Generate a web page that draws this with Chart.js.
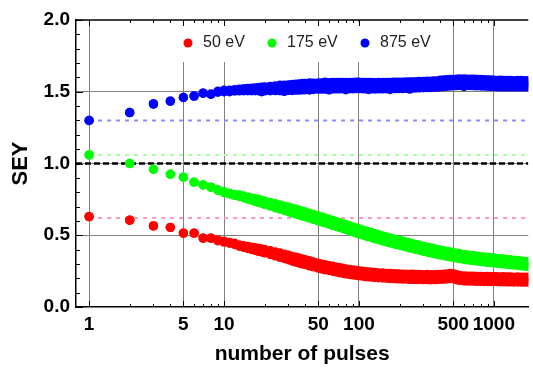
<!DOCTYPE html>
<html>
<head>
<meta charset="utf-8">
<script src="https://cdn.jsdelivr.net/npm/chart.js@4/dist/chart.umd.min.js"></script>
<style>
  html, body { margin: 0; padding: 0; background: #fff; }
</style>
</head>
<body>
<canvas id="seyChart" width="533" height="369"></canvas>
<script>
// pulse number (x) and SEY for each beam energy.
// Past ~10 pulses the measured points form a band, kept as an upper and a lower trace.
const pulses = [1, 2, 3, 4, 5, 6, 7, 8, 9, 10, 11, 12,
  13, 14, 15, 16, 17, 18, 19, 20, 22, 24, 26, 28, 30, 32, 34, 36, 38, 40, 43, 46,
  50, 53, 56, 60, 64, 68, 72, 76, 80, 85, 90, 95, 100, 106, 112, 118, 125, 132, 140,
  150, 160, 170, 180, 190, 200, 212, 225, 238, 250, 265, 280, 300, 320, 340, 360, 380,
  400, 425, 450, 475, 500, 530, 560, 600, 630, 670, 710, 750, 800, 850, 900, 950,
  1000, 1060, 1120, 1180, 1250, 1320, 1400, 1500, 1600, 1700, 1800];

const sey50Hi = [0.63, 0.605, 0.565, 0.555, 0.515, 0.515, 0.48, 0.48, 0.468, 0.458, 0.45, 0.444,
  0.433, 0.427, 0.422, 0.417, 0.413, 0.408, 0.405, 0.401, 0.392, 0.384, 0.376, 0.368, 0.361, 0.353, 0.347, 0.341, 0.335, 0.329, 0.322, 0.314,
  0.306, 0.299, 0.294, 0.288, 0.284, 0.278, 0.273, 0.27, 0.265, 0.262, 0.258, 0.255, 0.252, 0.249, 0.246, 0.245, 0.242, 0.24, 0.238,
  0.237, 0.234, 0.233, 0.232, 0.231, 0.23, 0.229, 0.228, 0.227, 0.228, 0.226, 0.226, 0.225, 0.226, 0.225, 0.225, 0.227,
  0.227, 0.229, 0.23, 0.233, 0.232, 0.225, 0.219, 0.216, 0.215, 0.214, 0.215, 0.213, 0.213, 0.212, 0.213, 0.212,
  0.211, 0.212, 0.21, 0.211, 0.209, 0.21, 0.208, 0.209, 0.207, 0.208, 0.207];
const sey50Lo = [0.63, 0.605, 0.565, 0.555, 0.515, 0.515, 0.48, 0.48, 0.462, 0.452, 0.444, 0.436,
  0.423, 0.415, 0.408, 0.401, 0.395, 0.388, 0.383, 0.377, 0.366, 0.356, 0.346, 0.338, 0.329, 0.321, 0.313, 0.307, 0.301, 0.295, 0.287, 0.28,
  0.271, 0.265, 0.26, 0.254, 0.249, 0.244, 0.239, 0.235, 0.231, 0.227, 0.224, 0.221, 0.218, 0.215, 0.212, 0.21, 0.208, 0.206, 0.204,
  0.202, 0.2, 0.199, 0.198, 0.197, 0.196, 0.195, 0.194, 0.193, 0.193, 0.192, 0.192, 0.191, 0.191, 0.19, 0.191, 0.192,
  0.193, 0.194, 0.196, 0.198, 0.197, 0.19, 0.185, 0.182, 0.181, 0.18, 0.18, 0.179, 0.179, 0.178, 0.178, 0.178,
  0.177, 0.177, 0.176, 0.176, 0.175, 0.175, 0.174, 0.174, 0.173, 0.173, 0.173];

const sey175Hi = [1.06, 1.0, 0.96, 0.925, 0.905, 0.87, 0.85, 0.835, 0.818, 0.803, 0.793, 0.784,
  0.78, 0.773, 0.766, 0.76, 0.754, 0.749, 0.744, 0.739, 0.729, 0.72, 0.712, 0.703, 0.696, 0.688, 0.682, 0.675, 0.668, 0.662, 0.653, 0.645,
  0.634, 0.627, 0.62, 0.611, 0.603, 0.595, 0.588, 0.581, 0.574, 0.566, 0.558, 0.551, 0.544, 0.537, 0.53, 0.523, 0.517, 0.51, 0.503,
  0.495, 0.488, 0.481, 0.475, 0.469, 0.464, 0.458, 0.452, 0.446, 0.441, 0.435, 0.43, 0.423, 0.417, 0.411, 0.406, 0.401,
  0.397, 0.392, 0.387, 0.383, 0.379, 0.375, 0.371, 0.366, 0.363, 0.36, 0.357, 0.354, 0.351, 0.348, 0.345, 0.343,
  0.341, 0.339, 0.336, 0.334, 0.332, 0.329, 0.327, 0.324, 0.321, 0.318, 0.315];
const sey175Lo = [1.06, 1.0, 0.96, 0.925, 0.905, 0.87, 0.85, 0.835, 0.812, 0.797, 0.787, 0.777,
  0.77, 0.761, 0.752, 0.744, 0.736, 0.729, 0.722, 0.715, 0.703, 0.692, 0.682, 0.673, 0.664, 0.656, 0.648, 0.641, 0.634, 0.628, 0.619, 0.611,
  0.6, 0.593, 0.586, 0.577, 0.569, 0.561, 0.554, 0.547, 0.54, 0.532, 0.524, 0.517, 0.51, 0.503, 0.496, 0.489, 0.483, 0.476, 0.469,
  0.461, 0.454, 0.447, 0.441, 0.435, 0.43, 0.424, 0.418, 0.412, 0.407, 0.401, 0.396, 0.389, 0.383, 0.377, 0.372, 0.367,
  0.363, 0.358, 0.353, 0.349, 0.345, 0.341, 0.337, 0.332, 0.329, 0.326, 0.323, 0.32, 0.317, 0.314, 0.311, 0.309,
  0.307, 0.305, 0.302, 0.3, 0.298, 0.295, 0.293, 0.29, 0.287, 0.284, 0.281];

const sey875Hi = [1.3, 1.355, 1.415, 1.435, 1.46, 1.47, 1.49, 1.483, 1.503, 1.51, 1.51, 1.515,
  1.518, 1.521, 1.523, 1.525, 1.527, 1.529, 1.531, 1.534, 1.537, 1.54, 1.545, 1.545, 1.548, 1.551, 1.553, 1.555, 1.557, 1.558, 1.561, 1.56,
  1.562, 1.562, 1.566, 1.563, 1.564, 1.564, 1.564, 1.565, 1.565, 1.565, 1.565, 1.566, 1.566, 1.565, 1.564, 1.564, 1.564, 1.563, 1.564,
  1.564, 1.565, 1.565, 1.566, 1.566, 1.567, 1.567, 1.568, 1.568, 1.569, 1.57, 1.571, 1.572, 1.573, 1.574, 1.575, 1.576,
  1.58, 1.582, 1.584, 1.586, 1.586, 1.588, 1.589, 1.589, 1.588, 1.588, 1.587, 1.586, 1.585, 1.584, 1.582, 1.583,
  1.581, 1.579, 1.58, 1.578, 1.579, 1.578, 1.577, 1.578, 1.578, 1.577, 1.577];
const sey875Lo = [1.3, 1.355, 1.415, 1.435, 1.46, 1.47, 1.49, 1.483, 1.497, 1.5, 1.5, 1.505,
  1.506, 1.507, 1.507, 1.507, 1.507, 1.507, 1.5, 1.506, 1.507, 1.508, 1.507, 1.503, 1.51, 1.509, 1.511, 1.511, 1.513, 1.514, 1.512, 1.516,
  1.518, 1.518, 1.519, 1.513, 1.52, 1.52, 1.52, 1.521, 1.514, 1.521, 1.521, 1.522, 1.522, 1.521, 1.52, 1.516, 1.52, 1.519, 1.52,
  1.52, 1.521, 1.516, 1.522, 1.522, 1.523, 1.523, 1.524, 1.518, 1.525, 1.526, 1.527, 1.528, 1.529, 1.53, 1.531, 1.532,
  1.534, 1.536, 1.538, 1.54, 1.541, 1.543, 1.544, 1.537, 1.544, 1.543, 1.542, 1.541, 1.54, 1.539, 1.538, 1.537,
  1.536, 1.535, 1.534, 1.534, 1.534, 1.534, 1.534, 1.534, 1.534, 1.534, 1.533];

const seriesLabels = ['50 eV', '175 eV', '875 eV'];
const seriesColors = ['#ff0000', '#00ff00', '#0000ff'];
const firstPulseSey = [0.62, 1.06, 1.3];
const refColors = ['#ff99cc', '#a8ffa8', '#8a8aff'];

const xLabelTicks = [1, 5, 10, 50, 100, 500, 1000];
const xMinorTicks = [2, 3, 4, 6, 7, 8, 9, 20, 30, 40, 60, 70, 80, 90, 200, 300, 400, 600, 700, 800, 900];
const xMin = 0.8;
const xMax = 1800;

const FONT = "'Liberation Sans', Arial, sans-serif";

function toPoints(ys) {
    return pulses.map((p, i) => ({ x: p, y: ys[i] }));
}

const seriesBands = [[sey50Hi, sey50Lo], [sey175Hi, sey175Lo], [sey875Hi, sey875Lo]];

const datasets = [];
seriesBands.forEach((band, i) => {
    band.forEach(vals => {
        datasets.push({
            label: seriesLabels[i],
            data: toPoints(vals),
            backgroundColor: seriesColors[i],
            borderWidth: 0,
            pointRadius: 4.7,
            pointHoverRadius: 4.7,
            order: 1
        });
    });
});
firstPulseSey.forEach((v, i) => {
    datasets.push({
        label: 'ref',
        data: [{ x: 1, y: v }, { x: xMax, y: v }],
        showLine: true,
        borderColor: refColors[i],
        borderWidth: 2,
        borderDash: [4, 5],
        pointRadius: 0,
        order: 2
    });
});
datasets.push({
    label: 'unity',
    data: [{ x: xMin, y: 1 }, { x: xMax, y: 1 }],
    showLine: true,
    borderColor: '#000',
    borderWidth: 2.5,
    borderDash: [6, 3],
    pointRadius: 0,
    order: 2
});

// legend box, frame on top and inward tick marks
const frameTicks = {
    id: 'frameTicks',
    afterDatasetsDraw(chart) {
        const { ctx, chartArea: a, scales: { x, y } } = chart;
        ctx.save();

        ctx.fillStyle = '#fff';
        ctx.fillRect(168, a.top + 2, 280, 40);
        const dots = [188, 272, 365];
        ctx.font = '16px ' + FONT;
        ctx.textBaseline = 'middle';
        dots.forEach((dx, i) => {
            ctx.fillStyle = seriesColors[i];
            ctx.beginPath();
            ctx.arc(dx, 43, 4.5, 0, Math.PI * 2);
            ctx.fill();
            ctx.fillStyle = '#222';
            ctx.fillText(seriesLabels[i], dx + 15, 43);
        });

        ctx.strokeStyle = '#000';
        ctx.lineWidth = 1.5;
        ctx.beginPath();
        ctx.moveTo(a.left, a.top);
        ctx.lineTo(a.right, a.top);
        ctx.stroke();

        ctx.lineWidth = 1;
        ctx.beginPath();
        const xt = xLabelTicks.map(v => [v, 6]).concat(xMinorTicks.map(v => [v, 3]));
        xt.forEach(([v, len]) => {
            const px = Math.round(x.getPixelForValue(v)) + 0.5;
            ctx.moveTo(px, a.bottom);
            ctx.lineTo(px, a.bottom - len);
            ctx.moveTo(px, a.top);
            ctx.lineTo(px, a.top + len);
        });
        for (let k = 0; k <= 20; k++) {
            const py = Math.round(y.getPixelForValue(k / 10)) + 0.5;
            const len = k % 5 === 0 ? 7 : 4;
            ctx.moveTo(a.left, py);
            ctx.lineTo(a.left + len, py);
        }
        ctx.stroke();
        ctx.restore();
    }
};

new Chart(document.getElementById('seyChart'), {
    type: 'scatter',
    data: { datasets: datasets },
    options: {
        responsive: false,
        animation: false,
        devicePixelRatio: 1,
        layout: { padding: { top: 20, right: 0, left: 0, bottom: 0 } },
        plugins: {
            legend: { display: false },
            tooltip: { enabled: false }
        },
        scales: {
            x: {
                type: 'logarithmic',
                min: xMin,
                max: xMax,
                afterBuildTicks: s => { s.ticks = xLabelTicks.map(v => ({ value: v })); },
                afterFit: s => { s.height = 62; },
                grid: { color: '#808080', lineWidth: 1, drawTicks: false },
                border: { color: '#000', width: 1.5 },
                ticks: {
                    autoSkip: false,
                    maxRotation: 0,
                    padding: 6,
                    color: '#000',
                    font: { family: FONT, size: 19, weight: 'bold' },
                    callback: v => String(v)
                },
                title: {
                    display: true,
                    text: 'number of pulses',
                    color: '#000',
                    font: { family: FONT, size: 21, weight: 'bold' },
                    padding: { top: 0, bottom: 2 }
                }
            },
            y: {
                min: 0,
                max: 2,
                afterFit: s => { s.width = 76; },
                grid: {
                    drawTicks: false,
                    lineWidth: 1,
                    color: c => ([0.5, 1, 1.5].includes(c.tick.value) ? '#808080' : 'rgba(0,0,0,0)')
                },
                border: { color: '#000', width: 1.5 },
                ticks: {
                    stepSize: 0.5,
                    padding: 6,
                    color: '#000',
                    font: { family: FONT, size: 19, weight: 'bold' },
                    callback: v => v.toFixed(1)
                },
                title: {
                    display: true,
                    text: 'SEY',
                    color: '#000',
                    font: { family: FONT, size: 22, weight: 'bold' },
                    padding: { top: 8, bottom: 0 }
                }
            }
        }
    },
    plugins: [frameTicks]
});
</script>
</body>
</html>
